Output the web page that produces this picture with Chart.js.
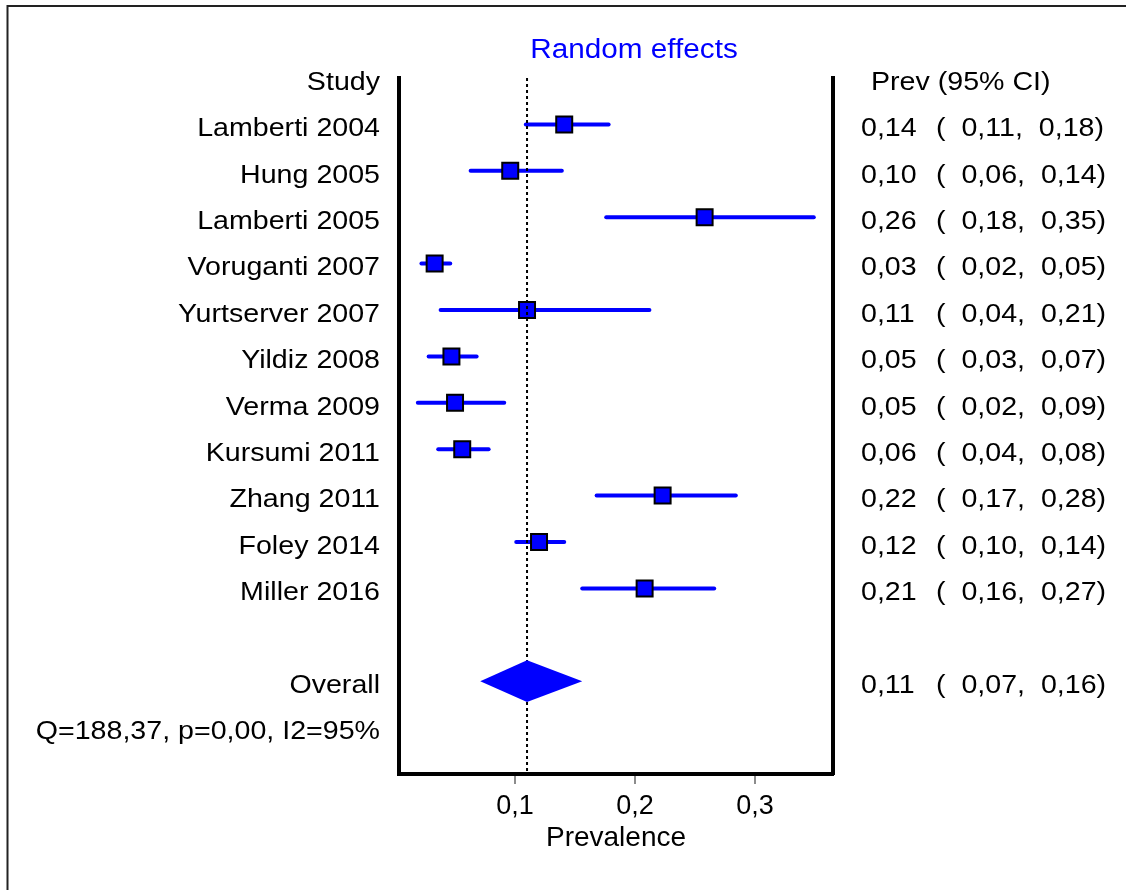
<!DOCTYPE html>
<html>
<head>
<meta charset="utf-8">
<title>Forest plot - prevalence</title>
<script src="https://cdn.jsdelivr.net/npm/chart.js@4.4.1/dist/chart.umd.min.js"></script>
<style>
  body { margin: 0; background: #fff; }
  #wrap { width: 1126px; height: 890px; }
</style>
</head>
<body>
<div id="wrap"><canvas id="forest" width="1126" height="890"></canvas></div>
<script>
// Study data (prevalence with 95% CI)
const studies = ['Lamberti 2004', 'Hung 2005', 'Lamberti 2005', 'Voruganti 2007', 'Yurtserver 2007',
    'Yildiz 2008', 'Verma 2009', 'Kursumi 2011', 'Zhang 2011', 'Foley 2014', 'Miller 2016'];
const prev  = [0.141, 0.096, 0.258, 0.033, 0.110, 0.047, 0.050, 0.056, 0.223, 0.120, 0.208];
const lower = [0.109, 0.063, 0.176, 0.022, 0.038, 0.028, 0.019, 0.036, 0.168, 0.101, 0.156];
const upper = [0.178, 0.139, 0.349, 0.046, 0.212, 0.068, 0.091, 0.078, 0.284, 0.141, 0.266];

// Pooled estimate + heterogeneity
const overall = [0.110, 0.071, 0.156]; // prev, lower, upper
const hetQ = 188.37;
const hetP = 0.00;
const hetI2 = 95;

const xTicks = [0.1, 0.2, 0.3];

const X_MIN = 0.0033;
const X_MAX = 0.365;
const ROW_OVERALL = studies.length + 2;
const ROW_STATS = studies.length + 3;
const ROWS = studies.length + 4;
const DIAMOND_HALF = 0.45;
const TEXT_STRETCH = 1.1;
const BLUE = '#0000ff';
const FONT = '"Liberation Sans", Arial, sans-serif';

Chart.defaults.font.family = FONT;

const fmt = v => v.toFixed(2).replace('.', ',');

function stretchText(ctx, str, x, y, align, size, color) {
    ctx.save();
    ctx.translate(x, y);
    ctx.scale(TEXT_STRETCH, 1);
    ctx.font = size + 'px ' + FONT;
    ctx.fillStyle = color || '#000';
    ctx.textAlign = align;
    ctx.textBaseline = 'alphabetic';
    ctx.fillText(str, 0, 0);
    ctx.restore();
}

// estimate in one column, "( lo, hi)" in the next
function ciText(ctx, m, lo, hi, y) {
    stretchText(ctx, fmt(m), 861, y, 'left', 26);
    stretchText(ctx, `(  ${fmt(lo)},  ${fmt(hi)})`, 936, y, 'left', 26);
}

// --- DATASETS ---
const ciSets = studies.map((s, i) => ({
    data: [{ x: lower[i], y: i + 1 }, { x: upper[i], y: i + 1 }],
    showLine: true,
    borderColor: BLUE,
    borderWidth: 4,
    borderCapStyle: 'round',
    pointRadius: 0,
    order: 3
}));

const markerSet = {
    data: studies.map((s, i) => ({ x: prev[i], y: i + 1 })),
    pointStyle: 'rect',
    pointRadius: 11.3,
    backgroundColor: BLUE,
    borderColor: '#000',
    borderWidth: 2,
    order: 2
};

const refLine = {
    data: [{ x: overall[0], y: 0 }, { x: overall[0], y: ROWS }],
    showLine: true,
    borderColor: '#000',
    borderWidth: 2,
    borderDash: [3, 3],
    pointRadius: 0,
    order: 1
};

const diamond = {
    data: [
        { x: overall[1], y: ROW_OVERALL },
        { x: overall[0], y: ROW_OVERALL - DIAMOND_HALF },
        { x: overall[2], y: ROW_OVERALL },
        { x: overall[0], y: ROW_OVERALL + DIAMOND_HALF },
        { x: overall[1], y: ROW_OVERALL }
    ],
    showLine: true,
    fill: 'shape',
    backgroundColor: BLUE,
    borderColor: BLUE,
    borderWidth: 0,
    pointRadius: 0,
    order: 0
};

// --- TEXT COLUMNS + FRAME ---
const forestText = {
    id: 'forestText',
    beforeDraw(chart) {
        const ctx = chart.ctx;
        ctx.save();
        ctx.strokeStyle = '#222';
        ctx.lineWidth = 2;
        ctx.beginPath();
        ctx.moveTo(7.5, 900);
        ctx.lineTo(7.5, 6);
        ctx.lineTo(1140, 6);
        ctx.stroke();
        ctx.restore();
    },
    afterDraw(chart) {
        const ctx = chart.ctx;
        const y = chart.scales.y;
        const base = r => y.getPixelForValue(r) + 11.7;

        stretchText(ctx, 'Random effects', 634, 58, 'center', 27, BLUE);
        stretchText(ctx, 'Study', 380, base(0), 'right', 26);
        stretchText(ctx, 'Prev (95% CI)', 871, base(0), 'left', 26);

        studies.forEach((s, i) => {
            stretchText(ctx, s, 380, base(i + 1), 'right', 26);
            ciText(ctx, prev[i], lower[i], upper[i], base(i + 1));
        });

        stretchText(ctx, 'Overall', 380, base(ROW_OVERALL), 'right', 26);
        ciText(ctx, overall[0], overall[1], overall[2], base(ROW_OVERALL));
        stretchText(ctx, `Q=${fmt(hetQ)}, p=${fmt(hetP)}, I2=${hetI2}%`, 380, base(ROW_STATS), 'right', 26);
    }
};

const sideAxis = pos => ({
    type: 'linear',
    position: pos,
    min: 0,
    max: ROWS,
    reverse: true,
    ticks: { display: false },
    grid: { display: false, drawTicks: false },
    border: { display: true, color: '#000', width: 4 },
    afterFit: s => { s.width = 0; }
});

new Chart(document.getElementById('forest'), {
    type: 'scatter',
    data: { datasets: [...ciSets, markerSet, refLine, diamond] },
    options: {
        responsive: false,
        animation: false,
        layout: { padding: { left: 399, right: 293, top: 78, bottom: 0 } },
        plugins: {
            legend: { display: false },
            tooltip: { enabled: false }
        },
        scales: {
            x: {
                type: 'linear',
                position: 'bottom',
                min: X_MIN,
                max: X_MAX,
                afterBuildTicks: s => { s.ticks = xTicks.map(v => ({ value: v })); },
                afterFit: s => { s.height = 116; },
                ticks: {
                    color: '#000',
                    font: { size: 27 },
                    padding: 6,
                    callback: v => v.toFixed(1).replace('.', ',')
                },
                grid: {
                    drawOnChartArea: false,
                    drawTicks: true,
                    tickLength: 10,
                    color: '#8c8c8c',
                    lineWidth: 2
                },
                border: { display: true, color: '#000', width: 4 },
                title: {
                    display: true,
                    text: 'Prevalence',
                    color: '#000',
                    font: { size: 28 },
                    padding: { top: 0, bottom: 35 }
                }
            },
            y: sideAxis('left'),
            y2: sideAxis('right')
        }
    },
    plugins: [forestText]
});
</script>
</body>
</html>
